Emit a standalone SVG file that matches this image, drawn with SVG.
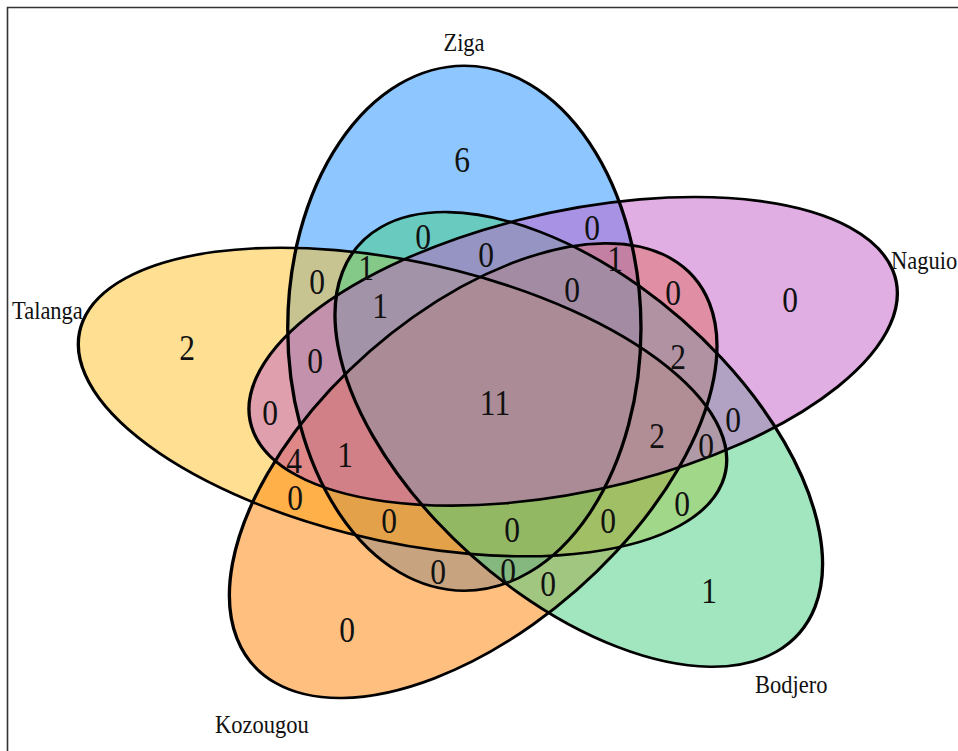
<svg xmlns="http://www.w3.org/2000/svg" width="958" height="751" viewBox="0 0 958 751">
<style>
.f{stroke:none;fill-opacity:0.5}
.o{fill:none;stroke:#000;stroke-width:2.6;vector-effect:non-scaling-stroke}
.n text{font-family:"Liberation Serif","Times New Roman",serif;font-size:35px;fill:#111;text-anchor:middle}
.c text{font-family:"Liberation Serif","Times New Roman",serif;font-size:25px;fill:#111}
</style>
<rect x="0" y="0" width="958" height="751" fill="#fff"/>
<path d="M7.5 751 V7.5 H958" fill="none" stroke="#333" stroke-width="1.6"/>
<defs>
<ellipse id="e" cx="0" cy="0" rx="262.5" ry="138"/>
</defs>
<g id="fills" transform="translate(498.4 398.3) scale(1.28 1)">
<use href="#e" class="f" fill="#1E90FF" transform="translate(-26.6 -70.1) rotate(-90)"/>
<use href="#e" class="f" fill="#FFC125" transform="translate(-74.9 3.7) rotate(18)"/>
<use href="#e" class="f" fill="#FF7F00" transform="translate(-19.7 72.4) rotate(-54)"/>
<use href="#e" class="f" fill="#43CD80" transform="translate(62.8 41.1) rotate(54)"/>
<use href="#e" class="f" fill="#C25DC7" transform="translate(58.4 -47) rotate(-18)"/>
</g>
<g id="outlines" transform="translate(498.4 398.3) scale(1.28 1)">
<g id="Ziga"><use href="#e" class="o" transform="translate(-26.6 -70.1) rotate(-90)"/></g>
<g id="Talanga"><use href="#e" class="o" transform="translate(-74.9 3.7) rotate(18)"/></g>
<g id="Kozougou"><use href="#e" class="o" transform="translate(-19.7 72.4) rotate(-54)"/></g>
<g id="Bodjero"><use href="#e" class="o" transform="translate(62.8 41.1) rotate(54)"/></g>
<g id="Naguio"><use href="#e" class="o" transform="translate(58.4 -47) rotate(-18)"/></g>
</g>
<g id="counts" class="n">
<text transform="translate(462 172) scale(.9 1)">6</text>
<text transform="translate(592 240) scale(.9 1)">0</text>
<text transform="translate(423 249) scale(.9 1)">0</text>
<text transform="translate(486 267) scale(.9 1)">0</text>
<text transform="translate(615 271) scale(.9 1)">1</text>
<text transform="translate(366 280) scale(.9 1)">1</text>
<text transform="translate(317 294) scale(.9 1)">0</text>
<text transform="translate(572 302) scale(.9 1)">0</text>
<text transform="translate(673 305) scale(.9 1)">0</text>
<text transform="translate(380 318) scale(.9 1)">1</text>
<text transform="translate(790 312) scale(.9 1)">0</text>
<text transform="translate(187 360) scale(.9 1)">2</text>
<text transform="translate(315 373) scale(.9 1)">0</text>
<text transform="translate(678 369) scale(.9 1)">2</text>
<text transform="translate(270 425) scale(.9 1)">0</text>
<text transform="translate(495 415) scale(.9 1)">11</text>
<text transform="translate(733 432) scale(.9 1)">0</text>
<text transform="translate(657 448) scale(.9 1)">2</text>
<text transform="translate(706 458) scale(.9 1)">0</text>
<text transform="translate(345 467) scale(.9 1)">1</text>
<text transform="translate(294 473) scale(.9 1)">4</text>
<text transform="translate(295 510) scale(.9 1)">0</text>
<text transform="translate(389 533) scale(.9 1)">0</text>
<text transform="translate(682 516) scale(.9 1)">0</text>
<text transform="translate(512 542) scale(.9 1)">0</text>
<text transform="translate(608 533) scale(.9 1)">0</text>
<text transform="translate(438 584) scale(.9 1)">0</text>
<text transform="translate(508 583) scale(.9 1)">0</text>
<text transform="translate(548 596) scale(.9 1)">0</text>
<text transform="translate(709 603) scale(.9 1)">1</text>
<text transform="translate(347 642) scale(.9 1)">0</text>
</g>
<g id="labels" class="c">
<text transform="translate(464 51) scale(.9 1)" text-anchor="middle">Ziga</text>
<text transform="translate(12 319) scale(.9 1)">Talanga</text>
<text transform="translate(891 269) scale(.9 1)">Naguio</text>
<text transform="translate(755 693) scale(.9 1)">Bodjero</text>
<text transform="translate(215 733) scale(.9 1)">Kozougou</text>
</g>
</svg>
